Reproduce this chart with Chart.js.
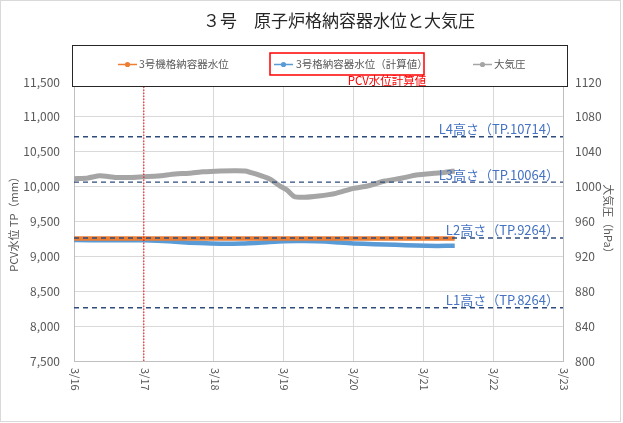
<!DOCTYPE html>
<html lang="ja">
<head>
<meta charset="UTF-8">
<title>3号 原子炉格納容器水位と大気圧</title>
<script src="https://cdn.jsdelivr.net/npm/chart.js"></script>
<style>
  body { margin: 0; background: #fff; }
  .wrap { width: 623px; height: 423px; position: relative; }
</style>
</head>
<body>
<div class="wrap"><canvas id="c"></canvas></div>
<script>
// x = 3/16 0:00 からの経過日数
const dateLabels = ['3/16', '3/17', '3/18', '3/19', '3/20', '3/21', '3/22', '3/23'];

// 3号機格納容器水位 (mm)
const orangeDays  = [0, 1, 2, 3, 4, 5, 5.45];
const orangeLevel = [9255, 9255, 9255, 9255, 9255, 9255, 9255];

// 3号格納容器水位（計算値） (mm)
const blueDays  = [0, 0.5, 1.0, 1.2, 1.5, 1.8, 2.1, 2.4, 2.7, 3.0, 3.3, 3.6, 3.8, 4.0, 4.3, 4.6, 4.9, 5.2, 5.45];
const blueLevel = [9235, 9230, 9232, 9225, 9205, 9190, 9182, 9185, 9200, 9218, 9220, 9214, 9198, 9185, 9175, 9165, 9155, 9150, 9152];

// 大気圧 (hPa)
const pressDays = [0, 0.2, 0.37, 0.6, 0.8, 1.0, 1.2, 1.45, 1.65, 1.85, 2.1, 2.3, 2.45, 2.6, 2.8, 2.95, 3.05, 3.15, 3.3, 3.5, 3.75, 4.0, 4.2, 4.45, 4.7, 4.9, 5.15, 5.3, 5.45];
const pressure  = [1009, 1010, 1012.5, 1010.5, 1010.5, 1011.4, 1012.2, 1014.5, 1015.3, 1017, 1018, 1018.3, 1018, 1014.5, 1008.7, 1000.7, 996, 988.7, 987.8, 989.2, 992.3, 998, 1000.7, 1006.4, 1009.9, 1013.3, 1015.3, 1016.2, 1018];

// 基準高さ
const limitNames  = ['L1高さ（TP.8264）', 'L2高さ（TP.9264）', 'L3高さ（TP.10064）', 'L4高さ（TP.10714）'];
const limitValues = [8264, 9264, 10064, 10714];

const seriesNames = ['3号機格納容器水位', '3号格納容器水位（計算値）', '大気圧'];
const markerDay = 1; // 3/17

const FONT = '"Noto Sans CJK JP", "Noto Sans", sans-serif';
Chart.defaults.font.family = FONT;
Chart.defaults.color = '#595959';

const pts = (xs, ys) => xs.map((x, i) => ({ x: x, y: ys[i] }));

const datasets = [];
limitValues.forEach(v => {
  datasets.push({
    label: 'limit', data: [{ x: 0, y: v }, { x: 7, y: v }], yAxisID: 'y',
    borderColor: '#2F4B7C', borderWidth: 1.4, borderDash: [5, 4], pointRadius: 0, order: 0
  });
});
datasets.push({
  label: 'marker', data: [{ x: markerDay, y: 7500 }, { x: markerDay, y: 11500 }], yAxisID: 'y',
  borderColor: '#FF0000', borderWidth: 1, borderDash: [1.5, 1.5], pointRadius: 0, order: 0
});
datasets.push({
  label: seriesNames[0], data: pts(orangeDays, orangeLevel), yAxisID: 'y',
  borderColor: '#ED7D31', borderWidth: 4.5, pointRadius: 0, order: 1
});
datasets.push({
  label: seriesNames[1], data: pts(blueDays, blueLevel), yAxisID: 'y',
  borderColor: '#5B9BD5', borderWidth: 4.5, pointRadius: 0, order: 2, tension: 0.2
});
datasets.push({
  label: seriesNames[2], data: pts(pressDays, pressure), yAxisID: 'y2',
  borderColor: '#A5A5A5', borderWidth: 5, pointRadius: 0, order: 3, tension: 0.2
});

const decor = {
  id: 'decor',
  afterDatasetsDraw(chart) {
    const ctx = chart.ctx;
    const xs = chart.scales.x, ys = chart.scales.y;
    ctx.save();
    // 基準高さラベル
    ctx.font = '13px ' + FONT;
    ctx.fillStyle = '#4472C4';
    ctx.textAlign = 'right';
    ctx.textBaseline = 'bottom';
    limitValues.forEach((v, i) => {
      ctx.fillText(limitNames[i], 559, ys.getPixelForValue(v) - 1);
    });
    // x 軸ラベル（時計回りに回転）
    ctx.font = '11px ' + FONT;
    ctx.fillStyle = '#595959';
    ctx.textAlign = 'left';
    ctx.textBaseline = 'middle';
    dateLabels.forEach((t, i) => {
      ctx.save();
      ctx.translate(xs.getPixelForValue(i) + 1, chart.chartArea.bottom + 7);
      ctx.rotate(Math.PI / 2);
      ctx.fillText(t, 0, 0);
      ctx.restore();
    });
    ctx.restore();
  },
  afterDraw(chart) {
    const ctx = chart.ctx;
    const ds = chart.data.datasets;
    ctx.save();
    // タイトル
    ctx.font = '17px ' + FONT;
    ctx.fillStyle = '#262626';
    ctx.textAlign = 'center';
    ctx.textBaseline = 'middle';
    ctx.fillText('３号　原子炉格納容器水位と大気圧', 339, 21);

    // 凡例枠
    ctx.fillStyle = '#fff';
    ctx.fillRect(72, 45, 495, 41);
    ctx.strokeStyle = '#262626';
    ctx.lineWidth = 1;
    ctx.strokeRect(72.5, 45.5, 495, 41);

    const items = [
      { ds: ds[5], lx: 118, tx: 139 },
      { ds: ds[6], lx: 274, tx: 296 },
      { ds: ds[7], lx: 473, tx: 494 }
    ];
    ctx.font = '10.5px ' + FONT;
    ctx.textAlign = 'left';
    items.forEach(it => {
      const y = 64.5;
      ctx.strokeStyle = it.ds.borderColor;
      ctx.lineWidth = 1.5;
      ctx.beginPath();
      ctx.moveTo(it.lx, y);
      ctx.lineTo(it.lx + 19, y);
      ctx.stroke();
      ctx.fillStyle = it.ds.borderColor;
      ctx.beginPath();
      ctx.arc(it.lx + 9.5, y, 2.6, 0, Math.PI * 2);
      ctx.fill();
      ctx.fillStyle = '#595959';
      ctx.fillText(it.ds.label, it.tx, y);
    });

    // 赤枠と注記
    ctx.strokeStyle = '#FF0000';
    ctx.lineWidth = 1.5;
    ctx.strokeRect(270, 53, 154, 22);
    ctx.font = '11.5px ' + FONT;
    ctx.fillStyle = '#FF0000';
    ctx.textAlign = 'center';
    ctx.fillText('PCV水位計算値', 387, 81);

    // 外枠
    ctx.strokeStyle = '#D9D9D9';
    ctx.lineWidth = 1;
    ctx.strokeRect(0.5, 0.5, 620, 421);
    ctx.restore();
  }
};

new Chart(document.getElementById('c'), {
  type: 'line',
  data: { datasets: datasets },
  options: {
    responsive: true,
    maintainAspectRatio: false,
    animation: false,
    layout: { padding: { top: 82, left: 0, right: 0, bottom: 0 } },
    plugins: { legend: { display: false }, tooltip: { enabled: false }, title: { display: false } },
    scales: {
      x: {
        type: 'linear', min: 0, max: 7,
        ticks: { display: false, stepSize: 1 },
        grid: { color: '#D9D9D9', drawTicks: false },
        border: { color: '#BFBFBF' },
        afterFit(s) { s.height = 62; }
      },
      y: {
        position: 'left', min: 7500, max: 11500,
        ticks: { stepSize: 500, padding: 14, font: { size: 12 }, color: '#595959',
          callback: v => v.toLocaleString('en-US') },
        grid: { color: '#D9D9D9', drawTicks: false },
        border: { color: '#BFBFBF' },
        title: { display: true, text: 'PCV水位 TP（mm）', font: { size: 11 }, color: '#595959', padding: { top: 7, bottom: 0 } },
        afterFit(s) { s.width = 74; }
      },
      y2: {
        position: 'right', min: 800, max: 1120,
        ticks: { stepSize: 40, padding: 12, font: { size: 12 }, color: '#595959',
          callback: v => String(v) },
        grid: { drawOnChartArea: false, drawTicks: false },
        border: { color: '#BFBFBF' },
        title: { display: true, text: '大気圧（hPa）', font: { size: 11 }, color: '#595959', padding: { top: 8, bottom: 0 } },
        afterFit(s) { s.width = 60; }
      }
    }
  },
  plugins: [decor]
});
</script>
</body>
</html>
